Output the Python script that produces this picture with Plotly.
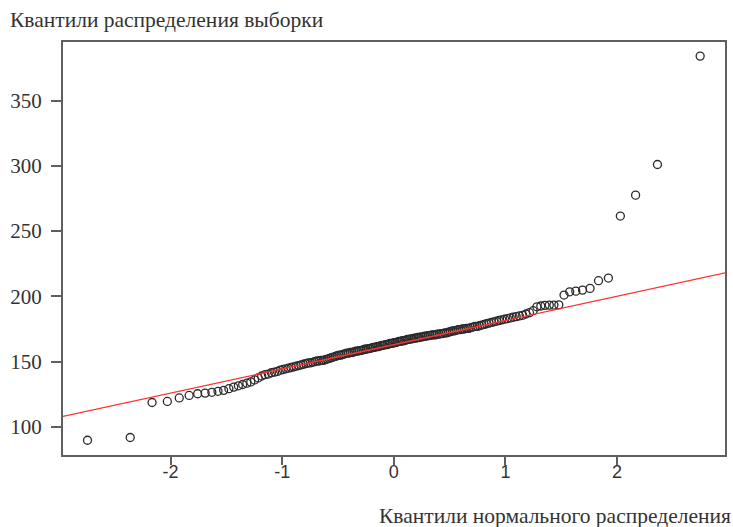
import plotly.graph_objects as go
from statistics import NormalDist

# Sorted sample values (n = 165)
sample_values = [
    89.8, 91.9, 118.7, 119.5, 122.2, 124.1, 125.4, 125.9, 126.5, 127.3,
    128.0, 129.3, 130.5, 131.5, 132.5, 133.5, 134.5, 136.0, 137.5, 139.0,
    140.0, 140.5, 141.5, 142.0, 142.5, 143.5, 144.0, 144.5, 145.0, 145.5,
    146.0, 146.5, 147.0, 147.5, 148.0, 148.5, 149.0, 149.0, 149.5, 150.0,
    150.5, 150.5, 151.0, 151.0, 151.5, 152.0, 152.5, 153.0, 153.5, 154.0,
    154.5, 155.0, 155.0, 155.5, 156.0, 156.5, 156.5, 157.0, 157.0, 157.5,
    158.0, 158.0, 158.5, 158.5, 159.0, 159.5, 159.5, 160.0, 160.0, 160.5,
    161.0, 161.0, 161.5, 161.5, 162.0, 162.5, 162.5, 163.0, 163.0, 163.5,
    164.0, 164.0, 164.5, 164.5, 165.0, 165.5, 165.5, 166.0, 166.0, 166.5,
    167.0, 167.0, 167.5, 167.5, 168.0, 168.0, 168.5, 168.5, 169.0, 169.0,
    169.5, 169.5, 170.0, 170.0, 170.5, 170.5, 170.5, 171.0, 171.0, 171.5,
    171.5, 172.0, 172.0, 172.5, 173.0, 173.5, 173.5, 174.0, 174.5, 174.5,
    175.0, 175.0, 175.5, 175.5, 176.0, 176.5, 177.0, 177.0, 177.5, 178.0,
    178.5, 179.0, 179.5, 180.0, 180.5, 181.0, 181.5, 182.0, 182.5, 183.0,
    183.5, 184.0, 184.5, 185.0, 185.5, 186.5, 187.5, 189.0, 192.0, 192.6,
    193.1, 193.3, 193.3, 193.5, 201.0, 203.5, 204.0, 204.8, 206.1, 212.0,
    214.0, 261.5, 277.5, 301.0, 384.0,
]

x_ticks = [-2, -1, 0, 1, 2]
y_ticks = [100, 150, 200, 250, 300, 350]
y_title = "Квантили распределения выборки"
x_title = "Квантили нормального распределения"

n = len(sample_values)
nd = NormalDist()
# theoretical quantiles (R ppoints for n > 10)
theo = [nd.inv_cdf((i + 0.5) / n) for i in range(n)]


# qqline through the quartiles (R quantile type 7)
def quantile7(vals, p):
    s = sorted(vals)
    h = (len(s) - 1) * p
    lo = int(h)
    hi = min(lo + 1, len(s) - 1)
    return s[lo] + (h - lo) * (s[hi] - s[lo])


q1, q3 = quantile7(sample_values, 0.25), quantile7(sample_values, 0.75)
z1, z3 = nd.inv_cdf(0.25), nd.inv_cdf(0.75)
slope = (q3 - q1) / (z3 - z1)
intercept = q1 - slope * z1
line_x = [-3.5, 3.5]
line_y = [intercept + slope * v for v in line_x]

fig = go.Figure()
fig.add_trace(go.Scatter(
    x=theo, y=sample_values, mode="markers",
    marker=dict(symbol="circle-open", size=8, color="#2a2a2a",
                line=dict(width=1.3, color="#2a2a2a")),
    hoverinfo="skip", showlegend=False,
))
fig.add_trace(go.Scatter(
    x=line_x, y=line_y, mode="lines",
    line=dict(color="#ff3030", width=1.3),
    hoverinfo="skip", showlegend=False,
))

axis_common = dict(
    showgrid=False, zeroline=False, showline=True, mirror=True,
    linecolor="#5f5f5f", linewidth=2, ticks="outside",
    tickcolor="#5f5f5f", tickwidth=2,
)

fig.update_layout(
    width=733, height=527,
    margin=dict(l=63, r=6, t=42, b=72),
    paper_bgcolor="white", plot_bgcolor="white",
    xaxis=dict(range=[-2.964, 2.967], tickvals=x_ticks,
               ticktext=[str(v) for v in x_ticks], ticklen=8,
               ticklabelstandoff=-9,
               tickfont=dict(family="Liberation Sans", size=18, color="#333333"),
               **axis_common),
    yaxis=dict(range=[78.5, 394.8], tickvals=y_ticks, ticklen=10,
               ticklabelstandoff=5,
               tickfont=dict(family="Liberation Serif", size=21, color="#333333"),
               **axis_common),
    annotations=[
        dict(text=y_title, xref="paper", yref="paper", x=-63 / 664, y=1,
             yshift=22, xanchor="left", yanchor="middle", showarrow=False,
             xshift=8,
             font=dict(family="Liberation Serif", size=21.5, color="#333333")),
        dict(text=x_title, xref="paper", yref="paper", x=1, y=0,
             yshift=-61, xanchor="right", yanchor="middle", showarrow=False,
             xshift=8,
             font=dict(family="Liberation Serif", size=21.5, color="#333333")),
    ],
)

fig.write_html("out.html")
